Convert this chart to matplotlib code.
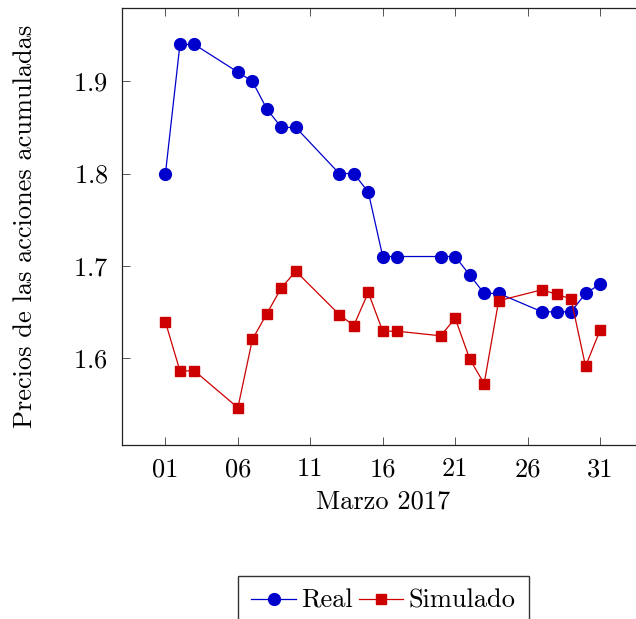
import matplotlib
matplotlib.use('Agg')
import matplotlib.pyplot as plt

plt.rcParams['font.family'] = ['cmr10', 'DejaVu Serif']
plt.rcParams['axes.formatter.use_mathtext'] = True
plt.rcParams['mathtext.fontset'] = 'cm'

# days of March 2017
dias = [1, 2, 3, 6, 7, 8, 9, 10, 13, 14, 15, 16, 17, 20, 21, 22, 23, 24, 27, 28, 29, 30, 31]
real = [1.80, 1.94, 1.94, 1.91, 1.90, 1.87, 1.85, 1.85, 1.80, 1.80, 1.78, 1.71,
        1.71, 1.71, 1.71, 1.69, 1.67, 1.67, 1.65, 1.65, 1.65, 1.67, 1.68]
simulado = [1.639, 1.586, 1.586, 1.546, 1.620, 1.648, 1.676, 1.694, 1.647, 1.635,
            1.671, 1.629, 1.629, 1.624, 1.643, 1.599, 1.572, 1.662, 1.674, 1.669,
            1.664, 1.591, 1.630]
xticks = [1, 6, 11, 16, 21, 26, 31]
xticklabels = ['01', '06', '11', '16', '21', '26', '31']
yticks = [1.6, 1.7, 1.8, 1.9]

fs = 19
fig = plt.figure(figsize=(6.36, 6.19), dpi=100)
ax = fig.add_axes([0.1918, 0.281, 0.82, 0.706])

ax.plot(dias, real, color='#0000cc', lw=0.9, marker='o', ms=8.5, label='Real')
ax.plot(dias, simulado, color='#cc0000', lw=0.9, marker='s', ms=7.5, label='Simulado')

ax.set_xlim(-2, 34)
ax.set_ylim(1.5055, 1.9795)
ax.set_xticks(xticks)
ax.set_xticklabels(xticklabels)
ax.set_yticks(yticks)
ax.tick_params(direction='in', top=True, right=True, length=6, width=0.7,
               color='#555555', labelsize=fs, pad=9)
ax.tick_params(axis='y', pad=10)
for s in ax.spines.values():
    s.set_linewidth(0.9)
    s.set_color('#222222')

ax.set_xlabel('Marzo 2017', fontsize=fs, labelpad=6)
ax.set_ylabel('Precios de las acciones acumuladas', fontsize=fs, labelpad=26)

fig.legend(loc='upper center', bbox_to_anchor=(383.5 / 636, 1 - 576 / 619), ncol=2,
           fontsize=fs, handlelength=1.7, handletextpad=0.2, columnspacing=0.2,
           fancybox=False, edgecolor='#333333', framealpha=1, borderpad=0.5,
           borderaxespad=0)

fig.savefig('out.png', dpi=100)
